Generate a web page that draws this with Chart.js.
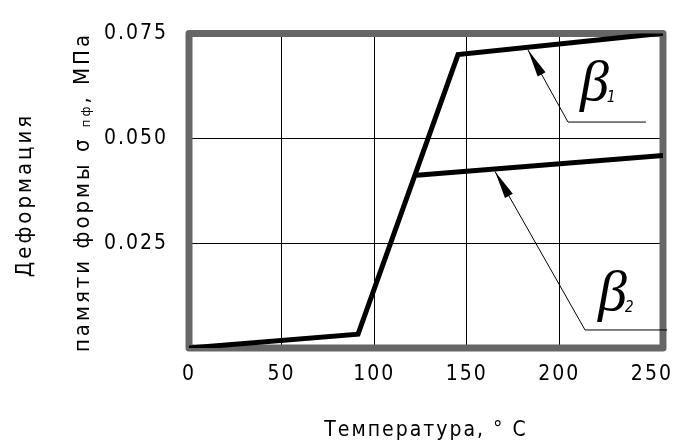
<!DOCTYPE html>
<html>
<head>
<meta charset="utf-8">
<script src="https://cdn.jsdelivr.net/npm/chart.js@4.4.1/dist/chart.umd.min.js"></script>
<style>
  body { margin: 0; background: #fff; }
  #wrap { width: 686px; height: 443px; }
</style>
</head>
<body>
<div id="wrap"><canvas id="chart"></canvas></div>
<script>
// Temperature (°C) and deformation (MPa) ticks
const xTicks = [0, 50, 100, 150, 200, 250];
const yTicks = [0, 0.025, 0.05, 0.075];

// beta1 curve
const beta1Temp = [0, 91.3, 145.3, 256];
const beta1Def  = [0, 0.0033, 0.0700, 0.0751];
// beta2 branch, starts on the rising part of beta1
const beta2Temp = [123, 256];
const beta2Def  = [0.0412, 0.0459];

// leader lines: arrow tip, bend, end of the shelf
const leader1Temp = [183.1, 204.7, 246.8];
const leader1Def  = [0.0711, 0.0539, 0.0539];
const leader2Temp = [165.3, 213.9, 258.2];
const leader2Def  = [0.0421, 0.0043, 0.0043];

const labelText = ['β', 'β'];
const labelSub  = ['1', '2'];
const labelTemp = [211.2, 220.9];
const labelDef  = [0.0591, 0.0090];

const xTitle = 'Температура, ° C';
const yTitle1 = 'Деформация';
const yTitle2 = ['памяти формы σ ', 'пф', ', МПа'];

const FONT = "'DejaVu Sans Condensed', 'DejaVu Sans', sans-serif";

function toPoints(xs, ys) {
  return xs.map((x, i) => ({x: x, y: ys[i]}));
}

function drawRotated(ctx, cx, cy, parts) {
  ctx.save();
  ctx.translate(cx, cy);
  ctx.rotate(-Math.PI / 2);
  ctx.textBaseline = 'middle';
  ctx.textAlign = 'left';
  let total = 0;
  parts.forEach(p => {
    ctx.font = p.size + 'px ' + FONT;
    p.w = ctx.measureText(p.text).width;
    total += p.w;
  });
  let pos = -total / 2;
  parts.forEach(p => {
    ctx.font = p.size + 'px ' + FONT;
    ctx.fillText(p.text, pos, p.dy || 0);
    pos += p.w;
  });
  ctx.restore();
}

const decor = {
  id: 'decor',
  beforeDraw(chart) {
    chart.ctx.letterSpacing = '2px';
  },
  beforeDatasetsDraw(chart) {
    const {ctx, chartArea: a} = chart;
    ctx.save();
    ctx.strokeStyle = '#666';
    ctx.lineWidth = 7;
    ctx.lineJoin = 'round';
    ctx.strokeRect(a.left, a.top, a.right - a.left, a.bottom - a.top);
    ctx.restore();
  },
  afterDatasetsDraw(chart) {
    // arrowheads at the tips of the leader lines
    const ctx = chart.ctx;
    [2, 3].forEach(i => {
      const pts = chart.getDatasetMeta(i).data;
      const tip = pts[0], tail = pts[1];
      const ang = Math.atan2(tip.y - tail.y, tip.x - tail.x);
      ctx.save();
      ctx.translate(tip.x, tip.y);
      ctx.rotate(ang);
      ctx.beginPath();
      ctx.moveTo(0, 0);
      ctx.lineTo(-28, -4.5);
      ctx.lineTo(-28, 4.5);
      ctx.closePath();
      ctx.fillStyle = '#000';
      ctx.fill();
      ctx.restore();
    });
  },
  afterDraw(chart) {
    const {ctx, scales: {x, y}} = chart;
    ctx.save();
    ctx.letterSpacing = '0px';
    ctx.fillStyle = '#000';
    ctx.textBaseline = 'alphabetic';
    ctx.textAlign = 'left';
    labelText.forEach((t, i) => {
      const px = x.getPixelForValue(labelTemp[i]);
      const py = y.getPixelForValue(labelDef[i]);
      ctx.font = "italic 58px 'Liberation Serif', serif";
      ctx.fillText(t, px, py);
      const w = ctx.measureText(t).width;
      ctx.font = 'italic 15px ' + FONT;
      ctx.fillText(labelSub[i], px + w - 2, py + 2);
    });
    ctx.letterSpacing = '3px';
    drawRotated(ctx, 25, 195, [{text: yTitle1, size: 22}]);
    drawRotated(ctx, 83, 192, [
      {text: yTitle2[0], size: 22},
      {text: yTitle2[1], size: 13, dy: 4},
      {text: yTitle2[2], size: 22}
    ]);
    ctx.restore();
    ctx.letterSpacing = '0px';
  }
};

const thick = {borderColor: '#000', borderWidth: 5, pointRadius: 0, fill: false, tension: 0, borderJoinStyle: 'miter'};
const thin = {borderColor: '#000', borderWidth: 1, pointRadius: 0, fill: false, tension: 0, clip: false};

new Chart(document.getElementById('chart'), {
  type: 'line',
  data: {
    datasets: [
      {...thick, data: toPoints(beta1Temp, beta1Def)},
      {...thick, data: toPoints(beta2Temp, beta2Def)},
      {...thin, data: toPoints(leader1Temp, leader1Def)},
      {...thin, data: toPoints(leader2Temp, leader2Def)}
    ]
  },
  options: {
    responsive: true,
    maintainAspectRatio: false,
    animation: false,
    layout: {padding: {top: 31, right: 23, left: 0, bottom: 0}},
    plugins: {legend: {display: false}, tooltip: {enabled: false}},
    scales: {
      x: {
        type: 'linear',
        min: 0,
        max: 256,
        afterBuildTicks: s => { s.ticks = xTicks.map(v => ({value: v})); },
        afterFit: s => { s.height = 95; },
        grid: {
          color: c => (c.tick && c.tick.value > 0 && c.tick.value < 250) ? '#000' : 'rgba(0,0,0,0)',
          lineWidth: 1,
          drawTicks: false
        },
        border: {display: false},
        ticks: {color: '#000', font: {size: 21, family: FONT}, padding: 14, maxRotation: 0, autoSkip: false},
        title: {display: true, text: xTitle, color: '#000', font: {size: 21, family: FONT}, padding: 0}
      },
      y: {
        type: 'linear',
        min: 0,
        max: 0.075,
        afterBuildTicks: s => { s.ticks = yTicks.map(v => ({value: v})); },
        afterFit: s => { s.width = 189; },
        grid: {color: '#000', lineWidth: 1, drawTicks: false},
        border: {display: false},
        ticks: {
          color: '#000',
          font: {size: 21, family: FONT},
          padding: 21,
          autoSkip: false,
          callback: v => v === 0 ? '' : v.toFixed(3)
        }
      }
    }
  },
  plugins: [decor]
});
</script>
</body>
</html>
